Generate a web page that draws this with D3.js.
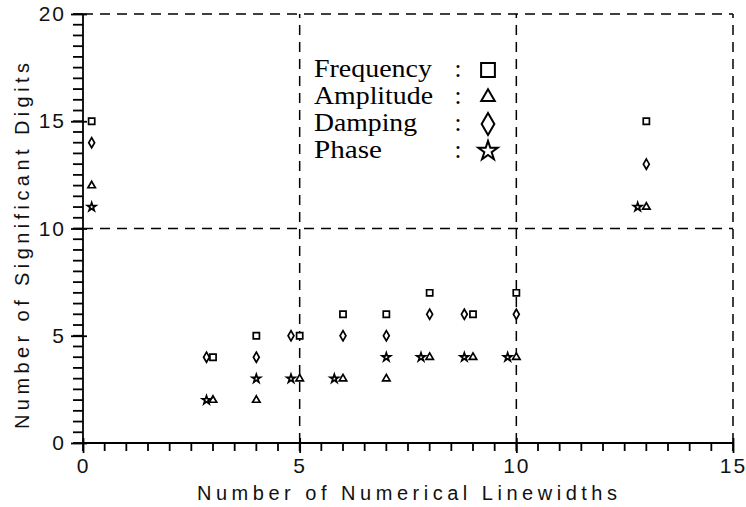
<!DOCTYPE html>
<html>
<head>
<meta charset="utf-8">
<script src="https://cdn.jsdelivr.net/npm/d3@7"></script>
<style>
  body { margin: 0; background: #fff; }
  svg { display: block; }
  .tick text { font-family: "Liberation Sans", sans-serif; }
</style>
</head>
<body>
<svg id="chart" width="746" height="507"></svg>
<script>
// values: [linewidths, significant digits]
var frequencyPts = [[0.2, 15], [3, 4], [4, 5], [5, 5], [6, 6], [7, 6], [8, 7], [9, 6], [10, 7], [13, 15]];
var amplitudePts = [[0.2, 12], [3, 2], [4, 2], [5, 3], [6, 3], [7, 3], [8, 4], [9, 4], [10, 4], [13, 11]];
var dampingPts   = [[0.2, 14], [2.85, 4], [4, 4], [4.8, 5], [6, 5], [7, 5], [8, 6], [8.8, 6], [10, 6], [13, 13]];
var phasePts     = [[0.2, 11], [2.85, 2], [4, 3], [4.8, 3], [5.8, 3], [7, 4], [7.8, 4], [8.8, 4], [9.8, 4], [12.8, 11]];

var seriesNames = ["Frequency", "Amplitude", "Damping", "Phase"];
var xTicks = [0, 5, 10, 15];
var yTicks = [0, 5, 10, 15, 20];
var xGrid = [5, 10, 15];
var yGrid = [10, 20];

var svg = d3.select("#chart");

var x = d3.scaleLinear().domain([0, 15]).range([83, 733]);
var y = d3.scaleLinear().domain([0, 20]).range([443, 14]);

// symbol per series, small in the plot and big in the key
var shapes = [d3.symbolSquare, d3.symbolTriangle, d3.symbolDiamond, d3.symbolStar];
var smallSizes = [38, 24, 30, 22];
var bigSizes = [190, 80, 140, 115];

// dashed grid lines
svg.selectAll(".vgrid")
	.data(xGrid)
	.enter().append("line")
	.attr("x1", function(d) { return x(d); })
	.attr("x2", function(d) { return x(d); })
	.attr("y1", y(0))
	.attr("y2", y(20))
	.attr("stroke", "#000")
	.attr("stroke-width", 1.5)
	.attr("stroke-dasharray", "10,7");

svg.selectAll(".hgrid")
	.data(yGrid)
	.enter().append("line")
	.attr("x1", x(0))
	.attr("x2", x(15))
	.attr("y1", function(d) { return y(d); })
	.attr("y2", function(d) { return y(d); })
	.attr("stroke", "#000")
	.attr("stroke-width", 1.5)
	.attr("stroke-dasharray", "10,7");

// axis lines
svg.append("line")
	.attr("x1", x(0)).attr("x2", x(15))
	.attr("y1", y(0)).attr("y2", y(0))
	.attr("stroke", "#000").attr("stroke-width", 1.8);
svg.append("line")
	.attr("x1", x(0)).attr("x2", x(0))
	.attr("y1", y(0)).attr("y2", y(20))
	.attr("stroke", "#000").attr("stroke-width", 1.8);

// minor ticks every half unit
var xMinor = d3.range(0, 15.01, 0.5);
var yMinor = d3.range(0, 20.01, 0.5);

svg.append("g")
	.selectAll("line")
	.data(xMinor)
	.enter().append("line")
	.attr("x1", function(d) { return x(d); })
	.attr("x2", function(d) { return x(d); })
	.attr("y1", y(0))
	.attr("y2", y(0) + 8)
	.attr("stroke", "#000")
	.attr("stroke-width", 1.8);

svg.append("g")
	.selectAll("line")
	.data(yMinor)
	.enter().append("line")
	.attr("x1", x(0) - 10)
	.attr("x2", x(0))
	.attr("y1", function(d) { return y(d); })
	.attr("y2", function(d) { return y(d); })
	.attr("stroke", "#000")
	.attr("stroke-width", 1.8);

// major ticks with labels
var xAxis = svg.append("g")
	.attr("transform", "translate(0," + y(0) + ")")
	.call(d3.axisBottom(x).tickValues(xTicks).tickSize(10).tickPadding(5).tickSizeOuter(0));
xAxis.select(".domain").remove();
xAxis.selectAll("line").attr("y1", -5).attr("stroke-width", 1.8);
xAxis.selectAll("text")
	.attr("font-size", 21)
	.attr("letter-spacing", 2)
	.attr("fill", "#111");

var yAxis = svg.append("g")
	.attr("transform", "translate(" + x(0) + ",0)")
	.call(d3.axisLeft(y).tickValues(yTicks).tickSize(12).tickPadding(5).tickSizeOuter(0));
yAxis.select(".domain").remove();
yAxis.selectAll("line").attr("x1", 4).attr("stroke-width", 1.8);
yAxis.selectAll("text")
	.attr("font-size", 21)
	.attr("letter-spacing", 2)
	.attr("fill", "#111");

// axis titles
svg.append("text")
	.attr("x", 407)
	.attr("y", 500)
	.attr("text-anchor", "middle")
	.attr("font-family", "Liberation Sans, sans-serif")
	.attr("font-size", 20)
	.attr("textLength", 420)
	.attr("lengthAdjust", "spacing")
	.attr("fill", "#111")
	.text("Number of Numerical Linewidths");

svg.append("text")
	.attr("transform", "translate(29,246) rotate(-90)")
	.attr("text-anchor", "middle")
	.attr("font-family", "Liberation Sans, sans-serif")
	.attr("font-size", 20)
	.attr("textLength", 366)
	.attr("lengthAdjust", "spacing")
	.attr("fill", "#111")
	.text("Number of Significant Digits");

// data points
var allSeries = [frequencyPts, amplitudePts, dampingPts, phasePts];
allSeries.forEach(function(pts, i) {
	svg.selectAll(".s" + i)
		.data(pts)
		.enter().append("path")
		.attr("class", "s" + i)
		.attr("transform", function(d) { return "translate(" + x(d[0]) + "," + y(d[1]) + ")"; })
		.attr("d", d3.symbol().type(shapes[i]).size(smallSizes[i]))
		.attr("fill", "#fff")
		.attr("stroke", "#000")
		.attr("stroke-width", 1.7);
});

// key
var keyWidths = [118, 119, 103, 68];
var key = svg.append("g");
seriesNames.forEach(function(name, i) {
	var base = 77 + i * 27;
	key.append("text")
		.attr("x", 314)
		.attr("y", base)
		.attr("font-family", "Liberation Serif, serif")
		.attr("font-size", 25)
		.attr("textLength", keyWidths[i])
		.attr("lengthAdjust", "spacingAndGlyphs")
		.attr("fill", "#000")
		.text(name);
	key.append("text")
		.attr("x", 458)
		.attr("y", base)
		.attr("text-anchor", "middle")
		.attr("font-family", "Liberation Serif, serif")
		.attr("font-size", 25)
		.text(":");
	key.append("path")
		.attr("transform", "translate(488," + (base - 7) + ")")
		.attr("d", d3.symbol().type(shapes[i]).size(bigSizes[i]))
		.attr("fill", "none")
		.attr("stroke", "#000")
		.attr("stroke-width", 2);
});
</script>
</body>
</html>
